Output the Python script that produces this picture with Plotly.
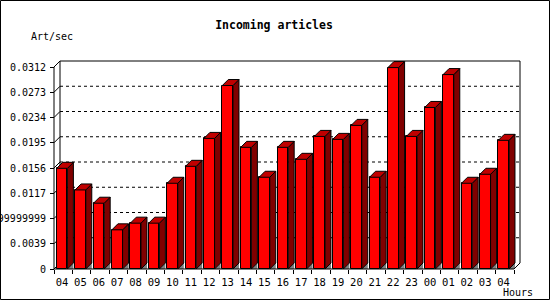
import plotly.graph_objects as go

# ---------------- data ----------------
hours = ["04", "05", "06", "07", "08", "09", "10", "11", "12", "13", "14", "15", "16",
         "17", "18", "19", "20", "21", "22", "23", "00", "01", "02", "03", "04"]
rate = [0.01555, 0.01221, 0.01016, 0.00605, 0.00708, 0.00708, 0.01324, 0.01586,
        0.02017, 0.02834, 0.01879, 0.01417, 0.01879, 0.01694, 0.02048, 0.02002,
        0.02218, 0.01417, 0.03111, 0.02048, 0.02495, 0.03003, 0.01324, 0.01463,
        0.01987]
y_ticks = [0, 0.0039, 0.0078, 0.0117, 0.0156, 0.0195, 0.0234, 0.0273, 0.0312]
y_ticktext = ["0", "0.0039", "0.0077999999999999", "0.0117", "0.0156", "0.0195",
              "0.0234", "0.0273", "0.0312"]
title_text = "Incoming articles"
y_label = "Art/sec"
x_label = "Hours"

# ---------------- style / geometry ----------------
FONT = "DejaVu Sans Mono"
W, H = 550, 300
ML, MR, MT, MB = 53, 29, 60, 30
PW, PH = W - ML - MR, H - MT - MB
SLOT = 18.4                       # px per category
YMAX = y_ticks[-1]
PXY = YMAX / 202.0                # data units per px (y)
DEPTH = 6                         # 3D depth in px
DX = DEPTH / SLOT
DY = DEPTH * PXY
n = len(rate)
XR = [-0.5 - 1 / SLOT, (n - 0.5) + 7 / SLOT]
YR = [-1 * PXY, YMAX + 7 * PXY]
FRONT_L = -0.353
FRONT_W = 0.58
RED, TOP, SIDE, GRAY = "#ff0000", "#c00000", "#800000", "#808080"

idx = list(range(n))

fig = go.Figure()

# front faces
fig.add_trace(go.Bar(x=idx, y=rate, width=FRONT_W, offset=FRONT_L,
                     marker=dict(color=RED, line=dict(color="black", width=1)),
                     showlegend=False, hoverinfo="skip"))

# floor shadow triangles, side faces, top faces
gx, gy, sx, sy, tx, ty = [], [], [], [], [], []
for i, v in zip(idx, rate):
    L = i + FRONT_L
    R = L + FRONT_W
    gx += [R, R + DX, R + DX, R, None]
    gy += [0, DY, 0, 0, None]
    sx += [R, R + DX, R + DX, R, R, None]
    sy += [0, DY, v + DY, v, 0, None]
    tx += [L, L + DX, R + DX, R, L, None]
    ty += [v, v + DY, v + DY, v, v, None]

fig.add_trace(go.Scatter(x=gx, y=gy, mode="lines", fill="toself", fillcolor=GRAY,
                         line=dict(width=0, color=GRAY), showlegend=False, hoverinfo="skip"))
fig.add_trace(go.Scatter(x=sx, y=sy, mode="lines", fill="toself", fillcolor=SIDE,
                         line=dict(width=1, color="black"), showlegend=False, hoverinfo="skip"))
fig.add_trace(go.Scatter(x=tx, y=ty, mode="lines", fill="toself", fillcolor=TOP,
                         line=dict(width=1, color="black"), showlegend=False, hoverinfo="skip"))

shapes = []
x0f, x1f = -0.5, n - 0.5
# back wall grid lines (dashed)
for v in y_ticks[1:-1]:
    shapes.append(dict(type="line", xref="x", yref="y", x0=x0f + DX, x1=x1f + DX,
                       y0=v + DY, y1=v + DY, layer="below",
                       line=dict(color="black", width=1, dash="3px,3px")))
# diagonal tick connectors
for v in y_ticks[:-1]:
    shapes.append(dict(type="line", xref="x", yref="y", x0=x0f, x1=x0f + DX,
                       y0=v, y1=v + DY, layer="below", line=dict(color="black", width=1)))
# back wall frame
shapes.append(dict(type="line", xref="x", yref="y", x0=x0f + DX, x1=x0f + DX,
                   y0=DY, y1=YMAX + DY, layer="below", line=dict(color="black", width=1)))
shapes.append(dict(type="line", xref="x", yref="y", x0=x0f + DX, x1=x1f + DX,
                   y0=YMAX + DY, y1=YMAX + DY, layer="below", line=dict(color="black", width=1)))
shapes.append(dict(type="line", xref="x", yref="y", x0=x1f + DX, x1=x1f + DX,
                   y0=DY, y1=YMAX + DY, layer="below", line=dict(color="black", width=1)))
# front axes
shapes.append(dict(type="line", xref="x", yref="y", x0=x0f, x1=x0f, y0=0, y1=YMAX,
                   line=dict(color="black", width=1)))
shapes.append(dict(type="line", xref="x", yref="y", x0=x0f, x1=x0f + DX, y0=YMAX, y1=YMAX + DY,
                   line=dict(color="black", width=1)))
shapes.append(dict(type="line", xref="x", yref="y", x0=x0f, x1=x1f, y0=0, y1=0,
                   line=dict(color="black", width=1)))
shapes.append(dict(type="line", xref="x", yref="y", x0=x1f, x1=x1f + DX, y0=0, y1=DY,
                   line=dict(color="black", width=1)))
# image border
shapes.append(dict(type="rect", xref="paper", yref="paper",
                   x0=(0.5 - ML) / PW, x1=(W - 0.5 - ML) / PW,
                   y0=(MT + PH - (H - 0.5)) / PH, y1=(MT + PH - 0.5) / PH,
                   line=dict(color="black", width=1), fillcolor="rgba(0,0,0,0)"))

fig.update_layout(
    width=W, height=H,
    margin=dict(l=ML, r=MR, t=MT, b=MB, pad=0, autoexpand=False),
    paper_bgcolor="white", plot_bgcolor="white",
    font=dict(family=FONT, size=10, color="black"),
    bargap=0,
    shapes=shapes,
    title=dict(text="<b>" + title_text + "</b>", x=274 / W, xref="container", xanchor="center",
               y=1 - 25 / H, yref="container", yanchor="middle",
               font=dict(family=FONT, size=11.5, color="black")),
    annotations=[
        dict(text=y_label, xref="paper", yref="paper", x=(29 - ML) / PW,
             y=(MT + PH - 37) / PH, xanchor="left", yanchor="middle", showarrow=False,
             font=dict(family=FONT, size=10, color="black")),
        dict(text=x_label, xref="paper", yref="paper", x=(535 - ML) / PW,
             y=(MT + PH - 292) / PH, xanchor="right", yanchor="middle", showarrow=False,
             font=dict(family=FONT, size=10, color="black")),
    ],
    xaxis=dict(range=XR, showgrid=False, zeroline=False, showline=False, automargin=False,
               tickmode="array", tickvals=[i - 0.065 for i in idx], ticktext=hours,
               ticks="", tickfont=dict(family=FONT, size=10.5, color="black"),
               ticklabelstandoff=5,
               minor=dict(tickmode="array", tickvals=[k - 0.5 for k in range(n + 1)],
                          ticks="outside", ticklen=4, tickcolor="black", tickwidth=1,
                          showgrid=False),
               anchor="free", position=1 / PH, fixedrange=True),
    yaxis=dict(range=YR, showgrid=False, zeroline=False, showline=False, automargin=False,
               tickmode="array", tickvals=y_ticks, ticktext=y_ticktext,
               ticks="outside", ticklen=4, tickcolor="black", tickwidth=1,
               tickfont=dict(family=FONT, size=10, color="black"),
               ticklabelstandoff=2,
               anchor="free", position=1 / PW, fixedrange=True),
)

fig.write_html("out.html")
